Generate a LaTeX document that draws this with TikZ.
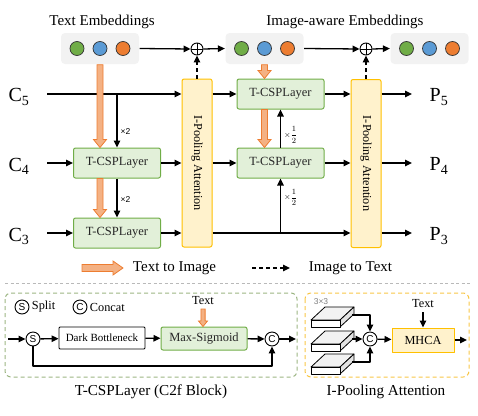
\documentclass[tikz,border=0pt]{standalone}
\usepackage{fontspec}
\setmainfont{Liberation Serif}
\setsansfont{Liberation Sans}
\usetikzlibrary{calc,arrows.meta}
\definecolor{embgray}{HTML}{F2F2F2}
\definecolor{dotgreen}{HTML}{70AD47}
\definecolor{dotblue}{HTML}{5B9BD5}
\definecolor{dotorange}{HTML}{ED7D31}
\definecolor{cspfill}{HTML}{E2F0D9}
\definecolor{cspline}{HTML}{70AD47}
\definecolor{poolfill}{HTML}{FFF2CC}
\definecolor{poolline}{HTML}{FFC000}
\definecolor{fatfill}{HTML}{F4B183}
\definecolor{fatline}{HTML}{ED7D31}
\definecolor{framegreen}{HTML}{9CB583}
\definecolor{frameyellow}{HTML}{F8C646}
\tikzset{
  ttl/.style={font=\fontsize{15}{18}\selectfont},
  lvl/.style={font=\fontsize{20}{22}\selectfont},
  emb/.style={fill=embgray, rounded corners=4pt, minimum width=78pt, minimum height=31pt},
  dot/.style={circle, draw=black!80, line width=0.7pt, minimum size=14pt, inner sep=0pt},
  plus/.style={circle, draw, line width=0.9pt, minimum size=12pt, inner sep=0pt,
    path picture={\draw[line width=0.9pt] (path picture bounding box.north) -- (path picture bounding box.south)
      (path picture bounding box.west) -- (path picture bounding box.east);}},
  csp/.style={draw=cspline, fill=cspfill, rounded corners=2pt, line width=1pt, inner sep=0pt,
    minimum width=87pt, minimum height=30pt, text=black!85, font=\fontsize{12.5}{14}\selectfont},
  pool/.style={draw=poolline, fill=poolfill, rounded corners=2pt, line width=1pt, inner sep=0pt,
    minimum width=30pt, minimum height=168pt, font=\fontsize{12.2}{14}\selectfont},
  mul/.style={font=\sffamily\fontsize{8.5}{9}\selectfont, inner sep=3pt},
  op/.style={circle, draw, line width=0.9pt, minimum size=14pt, inner sep=0pt, font=\sffamily\fontsize{10}{10}\selectfont},
  plainbox/.style={draw, line width=0.9pt, rounded corners=1pt, inner sep=0pt, minimum width=86pt, minimum height=22pt,
    font=\fontsize{11}{12}\selectfont},
  small/.style={font=\fontsize{12.3}{14}\selectfont},
  capt/.style={font=\fontsize{15.2}{18}\selectfont},
  fat/.style={fill=fatfill, draw=fatline, line width=0.8pt, line join=miter},
  dasharr/.style={->, dash pattern=on 4pt off 3pt},
  sep/.style={draw=gray!55, line width=1pt, dash pattern=on 3pt off 2.5pt},
}
\newcommand{\fatdown}[3][1]{%
  \filldraw[fat] let \p1=(#2), \p2=(#3) in
    (\x1-3pt*#1,\y1) -- (\x1+3pt*#1,\y1) -- (\x1+3pt*#1,\y2+8pt*#1) -- (\x1+6.5pt*#1,\y2+8pt*#1)
    -- (\x1,\y2) -- (\x1-6.5pt*#1,\y2+8pt*#1) -- (\x1-3pt*#1,\y2+8pt*#1) -- cycle;}
\newcommand{\fatright}[2]{%
  \filldraw[fat] let \p1=(#1), \p2=(#2) in
    (\x1,\y1-3.5pt) -- (\x2-10pt,\y1-3.5pt) -- (\x2-10pt,\y1-7pt) -- (\x2,\y1)
    -- (\x2-10pt,\y1+7pt) -- (\x2-10pt,\y1+3.5pt) -- (\x1,\y1+3.5pt) -- cycle;}
\newcommand{\half}{$\times\displaystyle\frac{1}{2}$}
\begin{document}
\begin{tikzpicture}[x=1pt, y=-1pt, line join=round, line width=1.3pt,
  >={Triangle[length=7pt,width=6.5pt]}]
    \useasboundingbox (0,0) rectangle (478,415);
    \node[ttl] (ttemb) at (102,22) {Text Embeddings};
    \node[ttl] (tiemb) at (345,22) {Image-aware Embeddings};
    \node[emb] (temb) at (100,48.5) {};
    \node[emb] (iemb) at (264.5,48.5) {};
    \node[emb] (oemb) at (429.5,48.5) {};
    \foreach \e in {temb,iemb,oemb} {
        \node[dot, fill=dotgreen] (\e-g) at ($(\e.center)+(-23,0)$) {};
        \node[dot, fill=dotblue] (\e-b) at (\e.center) {};
        \node[dot, fill=dotorange] (\e-o) at ($(\e.center)+(23,0)$) {};
    }
    \node[plus] (add1) at (197,49) {};
    \node[plus] (add2) at (366,49) {};
    \draw[->] (temb.east) -- (add1.west);
    \draw[->] (add1.east) -- (iemb.west);
    \draw[->] (iemb.east) -- (add2.west);
    \draw[->] (add2.east) -- (oemb.west);

    \node[pool] (ipl) at (197,163) {\rotatebox{-90}{I-Pooling Attention}};
    \node[pool] (ipr) at (366,163.5) {\rotatebox{-90}{I-Pooling Attention}};
    \draw[dasharr] (ipl.north) -- (add1.south);
    \draw[dasharr] (ipr.north) -- (add2.south);

    \node[csp] (tl4) at (117,163) {T-CSPLayer};
    \node[csp] (tl3) at (117,233) {T-CSPLayer};
    \node[csp] (tr5) at (280.5,94) {T-CSPLayer};
    \node[csp] (tr4) at (280.5,163) {T-CSPLayer};

    \coordinate (i5) at (47,94);
    \coordinate (i4) at (47,163);
    \coordinate (i3) at (47,233);
    \node[lvl] (c5) at (19,97) {C\textsubscript{5}};
    \node[lvl] (c4) at (19,166) {C\textsubscript{4}};
    \node[lvl] (c3) at (19,236) {C\textsubscript{3}};
    \draw[->] (i5) -- (i5 -| ipl.west);
    \draw[->] (i4) -- (tl4.west);
    \draw[->] (i3) -- (tl3.west);
    \draw[->] (tl4.north |- i5) -- (tl4.north) node[pos=0.7, right, mul] {×2};
    \draw[->] (tl4.south) -- (tl3.north) node[pos=0.55, right, mul] {×2};
    \fatdown{temb.south}{tl4.north}
    \fatdown{tl4.south -| temb.south}{tl3.north}
    \draw[->] (tl4.east) -- (tl4.east -| ipl.west);
    \draw[->] (tl3.east) -- (tl3.east -| ipl.west);

    \draw[->] (ipl.east |- tr5) -- (tr5.west);
    \draw[->] (ipl.east |- tr4) -- (tr4.west);
    \draw[->] (ipl.east |- tl3) -- (ipr.west |- tl3);
    \draw[->] (tr4.south |- tl3) -- (tr4.south) node[pos=0.65, right, mul] {\half};
    \draw[->] (tr4.north) -- (tr5.south) node[pos=0.33, right, mul] {\half};
    \fatdown{iemb.south}{tr5.north}
    \fatdown{tr5.south -| iemb.south}{tr4.north}
    \draw[->] (tr5.east) -- (tr5.east -| ipr.west);
    \draw[->] (tr4.east) -- (tr4.east -| ipr.west);

    \coordinate (o5) at (412,94);
    \coordinate (o4) at (412,163);
    \coordinate (o3) at (412,233);
    \draw[->] (ipr.east |- o5) -- (o5);
    \draw[->] (ipr.east |- o4) -- (o4);
    \draw[->] (ipr.east |- o3) -- (o3);
    \node[lvl] (p5) at (439,97) {P\textsubscript{5}};
    \node[lvl] (p4) at (439,166) {P\textsubscript{4}};
    \node[lvl] (p3) at (439,236) {P\textsubscript{3}};

    \coordinate (l1a) at (82,268);
    \coordinate (l1b) at (123,268);
    \fatright{l1a}{l1b}
    \node[ttl, anchor=west] (l1t) at (129,268) {Text to Image};
    \coordinate (l2a) at (252,268);
    \coordinate (l2b) at (290,268);
    \draw[dasharr] (l2a) -- (l2b);
    \node[ttl, anchor=west] (l2t) at (305,268) {Image to Text};
    \draw[sep] (5,283) -- (471,283);

    \draw[framegreen, line width=1pt, dash pattern=on 4pt off 3pt, rounded corners=6pt] (5,293) rectangle (297,377);
    \node[capt] (capl) at (151,392) {T-CSPLayer (C2f Block)};
    \node[op] (ls) at (22,307) {S};
    \node[small, anchor=west] (lst) at (28,307) {Split};
    \node[op] (lc) at (80,307) {C};
    \node[small, anchor=west] (lct) at (86,307) {Concat};
    \coordinate (bin) at (8,339);
    \node[op] (bs) at (33,339) {S};
    \node[plainbox] (dbn) at (102,338) {Dark Bottleneck};
    \node[csp, minimum width=86pt, minimum height=23pt] (msg) at (204,338.5) {Max-Sigmoid};
    \node[op] (bc) at (272,339) {C};
    \coordinate (bout) at (296,339);
    \coordinate (byp) at (33,366);
    \draw[->] (bin) -- (bs);
    \draw[->] (bs) -- (dbn);
    \draw[->] (dbn) -- (msg);
    \draw[->] (msg) -- (bc);
    \draw[->] (bc) -- (bout);
    \draw[->] (bs.south) -- (byp) -| (bc.south);
    \node[small] (mtx1) at (203,301) {Text};
    \fatdown[0.7]{mtx1.south}{msg.north}

    \draw[frameyellow, line width=1pt, dash pattern=on 4pt off 3pt, rounded corners=6pt] (305,293) rectangle (469,377);
    \node[capt] (capr) at (386,392) {I-Pooling Attention};
    \node[text=gray, font=\sffamily\fontsize{8.5}{9}\selectfont] (k33) at (321,302) {3×3};
    \foreach \i/\yb in {1/307,2/331,3/354} {
        \filldraw[fill=gray!10, line width=0.8pt] (311,\yb+13) -- (325,\yb) -- (354,\yb) -- (340,\yb+13) -- cycle;
        \filldraw[fill=gray!22, line width=0.8pt] (340,\yb+13) -- (354,\yb) -- (354,\yb+7) -- (340,\yb+20) -- cycle;
        \filldraw[fill=white, line width=0.8pt] (311,\yb+13) rectangle (340,\yb+20);
        \coordinate (s\i) at (352,\yb+8);
    }
    \node[op] (pc) at (370,339) {C};
    \draw[->] (s1) -| (pc.north);
    \draw[->] (s2) -- (pc.west);
    \draw[->] (s3) -| (pc.south);
    \node[draw=poolline, fill=poolfill, line width=1pt, minimum width=62pt, minimum height=24pt, small] (mhca) at (423,340) {MHCA};
    \node[small] (mtx2) at (423,304) {Text};
    \coordinate (pout) at (467,340);
    \draw[->] (pc) -- (mhca);
    \draw[->] (mtx2.south) -- (mhca.north);
    \draw[->] (mhca) -- (pout);
\end{tikzpicture}
\end{document}
